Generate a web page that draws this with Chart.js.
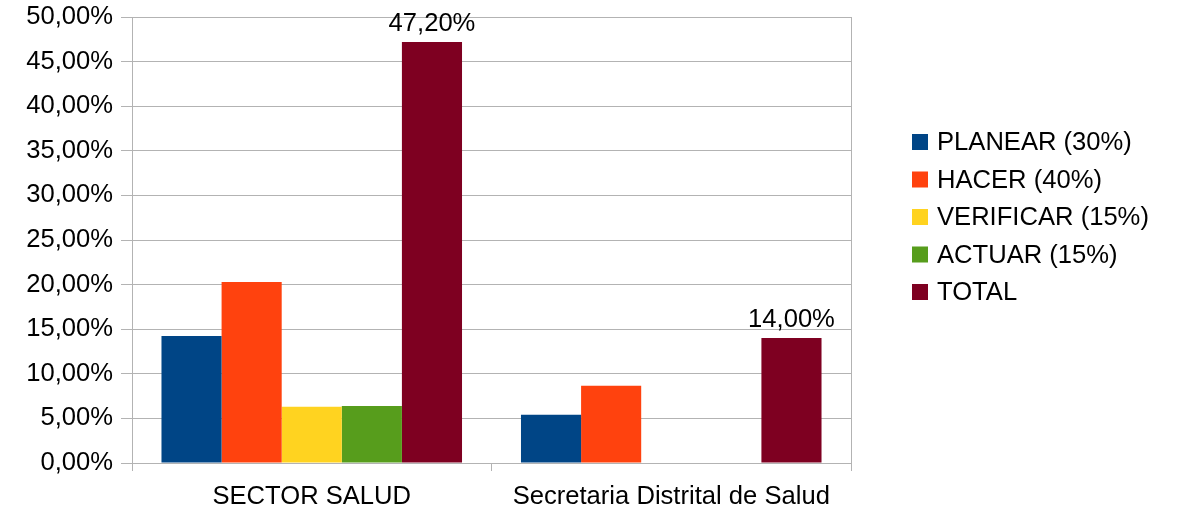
<!DOCTYPE html>
<html>
<head>
<meta charset="utf-8">
<script src="https://cdn.jsdelivr.net/npm/chart.js@4/dist/chart.umd.min.js"></script>
<style>
  html, body { margin: 0; padding: 0; background: #fff; }
  #wrap { width: 1178px; height: 513px; }
</style>
</head>
<body>
<div id="wrap"><canvas id="chart" width="1178" height="513"></canvas></div>
<script>
// === data ===
const categories = ["SECTOR SALUD", "Secretaria Distrital de Salud"];
const seriesNames = ["PLANEAR (30%)", "HACER (40%)", "VERIFICAR (15%)", "ACTUAR (15%)", "TOTAL"];
const planear = [14.25, 5.4];
const hacer = [20.3, 8.65];
const verificar = [6.3, 0];
const actuar = [6.4, 0];
const total = [47.2, 14.0];
const seriesColors = ["#004586", "#ff420e", "#ffd320", "#579d1c", "#7e0021"];
const yTicks = [0, 5, 10, 15, 20, 25, 30, 35, 40, 45, 50];

const FONT = "'Liberation Sans', Arial, sans-serif";
const FSIZE = 25.6;
const GRID = "#b3b3b3";

function pct(v) {
    return v.toFixed(2).replace(".", ",") + "%";
}

// === etiquetas de TOTAL, marco derecho y leyenda ===
const extras = {
    id: "extras",
    afterDatasetsDraw(chart) {
        const ctx = chart.ctx;
        const area = chart.chartArea;
        ctx.save();
        // marco derecho
        ctx.strokeStyle = GRID;
        ctx.lineWidth = 1;
        ctx.beginPath();
        ctx.moveTo(Math.round(area.right) + 0.5, area.top);
        ctx.lineTo(Math.round(area.right) + 0.5, area.bottom);
        ctx.stroke();

        // etiquetas de valor en TOTAL
        const idx = chart.data.datasets.length - 1;
        const meta = chart.getDatasetMeta(idx);
        ctx.font = FSIZE + "px " + FONT;
        ctx.fillStyle = "#000";
        ctx.textAlign = "center";
        ctx.textBaseline = "alphabetic";
        meta.data.forEach((bar, i) => {
            ctx.fillText(pct(chart.data.datasets[idx].data[i]), bar.x, bar.y - 11);
        });

        // leyenda
        const lx = 912, ly0 = 142, step = 37.5;
        ctx.textAlign = "left";
        ctx.textBaseline = "middle";
        chart.data.datasets.forEach((ds, i) => {
            const y = ly0 + i * step;
            ctx.fillStyle = ds.backgroundColor;
            ctx.fillRect(lx, y - 8, 16, 16);
            ctx.fillStyle = "#000";
            ctx.fillText(ds.label, lx + 25, y + 1);
        });
        ctx.restore();
    }
};

const seriesData = [planear, hacer, verificar, actuar, total];

new Chart(document.getElementById("chart"), {
    type: "bar",
    data: {
        labels: categories,
        datasets: seriesNames.map((name, i) => ({
            label: name,
            data: seriesData[i],
            backgroundColor: seriesColors[i],
            borderWidth: 0,
            categoryPercentage: 0.836,
            barPercentage: 1.0
        }))
    },
    options: {
        responsive: false,
        animation: false,
        layout: { padding: { top: 17, right: 327, left: 0, bottom: 0 } },
        plugins: {
            legend: { display: false },
            tooltip: { enabled: false }
        },
        scales: {
            x: {
                grid: {
                    offset: true,
                    drawOnChartArea: false,
                    color: GRID,
                    tickLength: 8
                },
                border: { color: GRID },
                ticks: {
                    color: "#000",
                    font: { family: FONT, size: FSIZE },
                    padding: 11,
                    maxRotation: 0
                },
                afterFit(scale) {
                    scale.height = 50;
                    scale.paddingLeft = 0;
                    scale.paddingRight = 0;
                }
            },
            y: {
                min: 0,
                max: 50,
                afterBuildTicks(scale) {
                    scale.ticks = yTicks.map(v => ({ value: v }));
                },
                grid: { color: GRID, tickLength: 11 },
                border: { color: GRID },
                ticks: {
                    color: "#000",
                    font: { family: FONT, size: FSIZE },
                    padding: 8,
                    callback: (v) => pct(v)
                },
                afterFit(scale) {
                    scale.width = 132;
                    scale.paddingTop = 0;
                    scale.paddingBottom = 0;
                }
            }
        }
    },
    plugins: [extras]
});
</script>
</body>
</html>
